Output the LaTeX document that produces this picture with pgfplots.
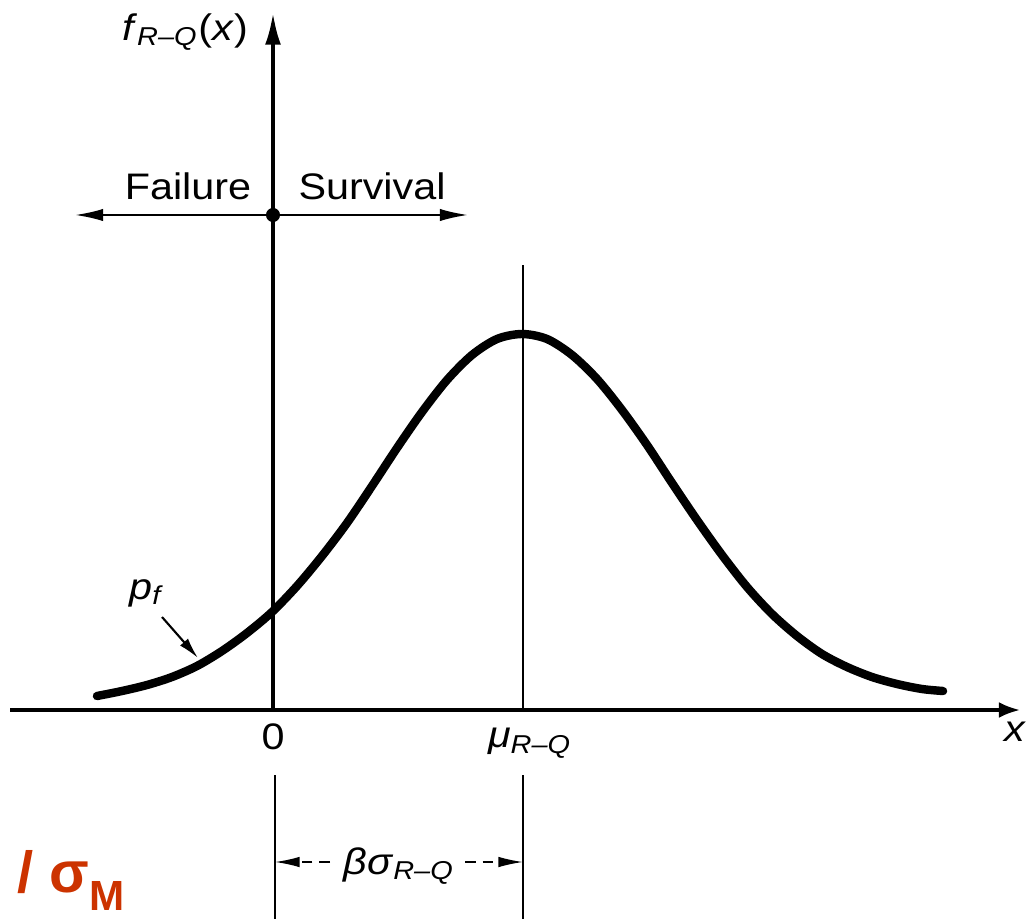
\documentclass[border=0pt]{standalone}
\usepackage{fontspec}
\setmainfont[FakeStretch=1.12]{Liberation Sans}
\newfontfamily\notefont{Liberation Sans}
\usepackage{pgfplots}
\pgfplotsset{compat=1.18}
\usetikzlibrary{arrows.meta}
\definecolor{notered}{HTML}{CC3300}

\newcommand{\lbl}{\fontsize{10.5}{12}\selectfont}
\newcommand{\RQ}{\textsubscript{\textit{R--Q}}}

\begin{document}
\begin{tikzpicture}
\begin{axis}[
  width=10.28cm, height=9.19cm, scale only axis,
  xmin=-2.73, xmax=7.55, ymin=-2.09, ymax=7.10,
  axis lines=none, clip=false]
\path (rel axis cs:0,0) rectangle (rel axis cs:1,1);

% density of the safety margin R-Q
\addplot[line width=2.4pt, smooth, line cap=round] coordinates {
  (-1.76,0.14) (-1.51,0.19) (-1.26,0.25) (-1.01,0.33) (-0.76,0.44)
  (-0.51,0.59) (-0.26,0.77) (-0.01,0.98) (0.24,1.24) (0.49,1.54)
  (0.74,1.87) (0.99,2.24) (1.24,2.62) (1.49,2.98) (1.74,3.30)
  (1.99,3.55) (2.24,3.71) (2.49,3.76) (2.74,3.71) (2.99,3.55)
  (3.24,3.31) (3.49,3.00) (3.74,2.65) (3.99,2.27) (4.24,1.90)
  (4.49,1.55) (4.74,1.23) (4.99,0.96) (5.24,0.74) (5.49,0.56)
  (5.74,0.43) (5.99,0.33) (6.24,0.26) (6.49,0.21) (6.70,0.19)
};

% coordinate axes
\draw[line width=0.9pt, -{Latex[length=6pt,width=4.5pt]}]
  (axis cs:-2.63,0) -- (axis cs:7.47,0);
\draw[line width=1.0pt, -{Latex[length=9pt,width=4.5pt]}]
  (axis cs:0,0) -- (axis cs:0,6.97);

% mean line
\draw[line width=0.6pt] (axis cs:2.50,0) -- (axis cs:2.50,4.45);

% failure / survival regions
\draw[line width=0.6pt, {Latex[length=8pt,width=3.5pt]}-{Latex[length=8pt,width=3.5pt]}]
  (axis cs:-1.98,4.95) -- (axis cs:1.95,4.95);
\fill (axis cs:0,4.95) circle[radius=2pt];
\node[font=\lbl] at (axis cs:-0.85,5.24) {Failure};
\node[font=\lbl] at (axis cs:0.99,5.24) {Survival};

% labels
\node[font=\lbl] at (axis cs:-0.88,6.78) {\textit{f}\RQ(\textit{x})};
\node[font=\lbl] at (axis cs:0,-0.27) {0};
\node[font=\lbl] at (axis cs:2.57,-0.33) {\textit{μ}\RQ};
\node[font=\lbl, anchor=east, inner sep=0pt] at (axis cs:7.54,-0.22) {\textit{x}};

% p_f pointer
\node[font=\lbl] at (axis cs:-1.26,1.17) {\textit{p}\textsubscript{\textit{f}}};
\draw[line width=0.6pt, -{Latex[length=6pt,width=3pt]}]
  (axis cs:-1.11,0.93) -- (axis cs:-0.75,0.52);

% reliability index dimension
\draw[line width=0.45pt] (axis cs:0.02,-0.65) -- (axis cs:0.02,-2.09);
\draw[line width=0.45pt] (axis cs:2.50,-0.65) -- (axis cs:2.50,-2.09);
\draw[line width=0.45pt, densely dashed, -{Latex[length=7pt,width=3pt]}]
  (axis cs:0.57,-1.52) -- (axis cs:0.02,-1.52);
\draw[line width=0.45pt, densely dashed, -{Latex[length=7pt,width=3pt]}]
  (axis cs:1.92,-1.52) -- (axis cs:2.50,-1.52);
\node[font=\lbl] at (axis cs:1.26,-1.56) {\textit{βσ}\RQ};

% note
\node[anchor=base west, inner sep=0pt, text=notered,
      font=\notefont\bfseries\fontsize{16.5}{18}\selectfont]
  at (axis cs:-2.56,-1.82) {/ σ\raisebox{-0.32em}{\fontsize{12}{14}\selectfont M}};
\end{axis}
\end{tikzpicture}
\end{document}
